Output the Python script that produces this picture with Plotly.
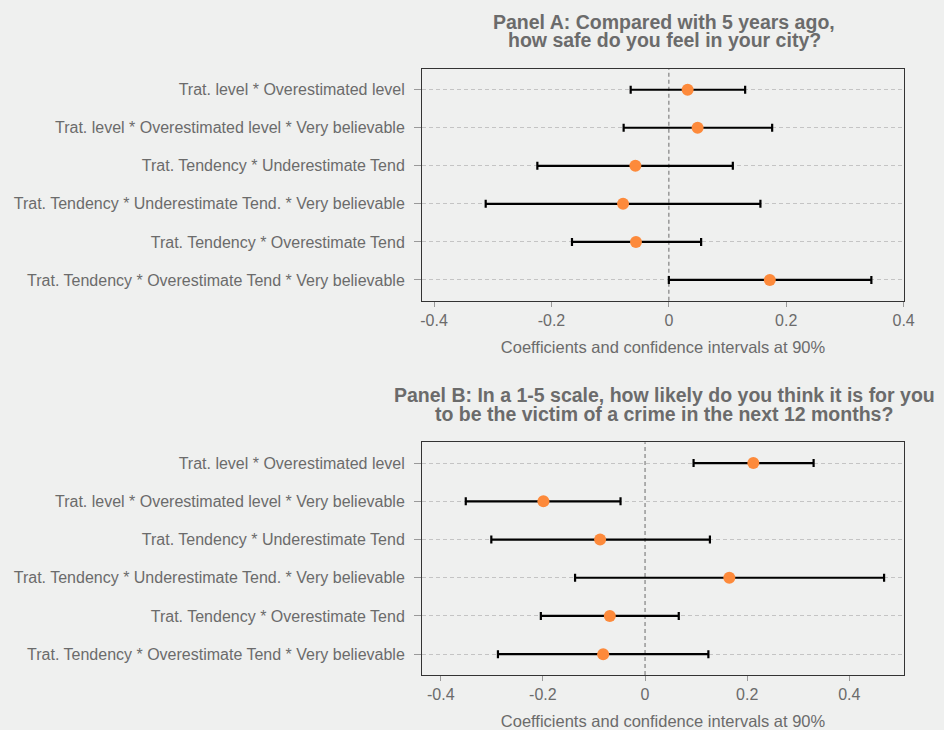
import plotly.graph_objects as go
from plotly.subplots import make_subplots

labels = [
    "Trat. level * Overestimated level",
    "Trat. level * Overestimated level * Very believable",
    "Trat. Tendency * Underestimate Tend",
    "Trat. Tendency * Underestimate Tend. * Very believable",
    "Trat. Tendency * Overestimate Tend",
    "Trat. Tendency * Overestimate Tend * Very believable",
]

# Panel A
a_coef = [0.032, 0.049, -0.057, -0.078, -0.056, 0.172]
a_low = [-0.065, -0.077, -0.224, -0.312, -0.165, 0.000]
a_high = [0.130, 0.176, 0.109, 0.156, 0.055, 0.345]

# Panel B
b_coef = [0.212, -0.199, -0.088, 0.165, -0.069, -0.082]
b_low = [0.095, -0.351, -0.301, -0.137, -0.204, -0.288]
b_high = [0.330, -0.048, 0.127, 0.468, 0.066, 0.124]

x_ticks = [-0.4, -0.2, 0, 0.2, 0.4]
x_ticktext = ["-0.4", "-0.2", "0", "0.2", "0.4"]

title_a = ["Panel A: Compared with 5 years ago,", "how safe do you feel in your city?"]
title_b = ["Panel B: In a 1-5 scale, how likely do you think it is for you",
           "to be the victim of a crime in the next 12 months?"]
x_title = "Coefficients and confidence intervals at 90%"

BG = "#eff0ef"
TXT = "#6b6b6b"
ORANGE = "#fd8a3b"
FONT = "Liberation Sans, Arial, Helvetica, sans-serif"

fig = make_subplots(rows=2, cols=1, vertical_spacing=0.0)

def add_panel(coef, low, high, row):
    fig.add_trace(go.Scatter(
        x=coef, y=labels, mode="markers",
        marker=dict(color=ORANGE, size=12, line=dict(width=0)),
        error_x=dict(type="data", symmetric=False,
                     array=[h - c for h, c in zip(high, coef)],
                     arrayminus=[c - l for c, l in zip(coef, low)],
                     color="black", thickness=2.2, width=4),
        showlegend=False, hoverinfo="x+y",
    ), row=row, col=1)

add_panel(a_coef, a_low, a_high, 1)
add_panel(b_coef, b_low, b_high, 2)

fig.update_layout(
    width=944, height=730,
    margin=dict(l=422, r=40, t=69, b=55),
    paper_bgcolor=BG, plot_bgcolor=BG,
    font=dict(family=FONT, color=TXT, size=16),
    yaxis=dict(domain=[0.6177, 1.0]),
    yaxis2=dict(domain=[0.0, 0.384]),
)

axis_common = dict(showline=True, mirror=True, linecolor="#333333", linewidth=1,
                   automargin=False)

fig.update_xaxes(tickmode="array", tickvals=x_ticks, ticktext=x_ticktext,
                 ticks="outside", ticklen=5, tickcolor="#999999",
                 showgrid=False, zeroline=False,
                 tickfont=dict(size=16, color=TXT),
                 title=dict(text=x_title, font=dict(size=16.5, color=TXT), standoff=13),
                 **axis_common)
fig.update_xaxes(range=[-0.4205, 0.4006], row=1, col=1)
fig.update_xaxes(range=[-0.4367, 0.507], row=2, col=1)

fig.update_yaxes(type="category", categoryorder="array", categoryarray=labels,
                 range=[5.545, -0.545],
                 ticks="outside", ticklen=7, tickcolor="#999999",
                 ticklabelstandoff=6,
                 showgrid=True, gridcolor="#c4c4c4", griddash="4px,3px", gridwidth=1,
                 tickfont=dict(size=16, color=TXT),
                 **axis_common)

# zero reference lines
for xr, yr in [("x", "y domain"), ("x2", "y2 domain")]:
    fig.add_shape(type="line", x0=0, x1=0, y0=0, y1=1, xref=xr, yref=yr,
                  line=dict(color="#8a8a8a", width=1.3, dash="4px,3px"), layer="below")

def py(pix):
    return (675 - pix) / 606.0

anns = []
for txt, pix in zip(title_a, [22.0, 40.5]):
    anns.append(dict(text="<b>" + txt + "</b>", x=664, y=py(pix)))
for txt, pix in zip(title_b, [395.0, 413.5]):
    anns.append(dict(text="<b>" + txt + "</b>", x=664, y=py(pix)))
for a in anns:
    fig.add_annotation(text=a["text"], xref="paper", yref="paper",
                       x=(a["x"] - 422) / (904 - 422), y=a["y"],
                       xanchor="center", yanchor="middle", showarrow=False,
                       font=dict(size=19.5, color=TXT, family=FONT))

fig.write_html(
    "out.html",
    config={"displayModeBar": False},
    post_script="document.body.style.margin='0';document.body.style.background='#eff0ef';document.body.style.overflow='hidden';",
)
